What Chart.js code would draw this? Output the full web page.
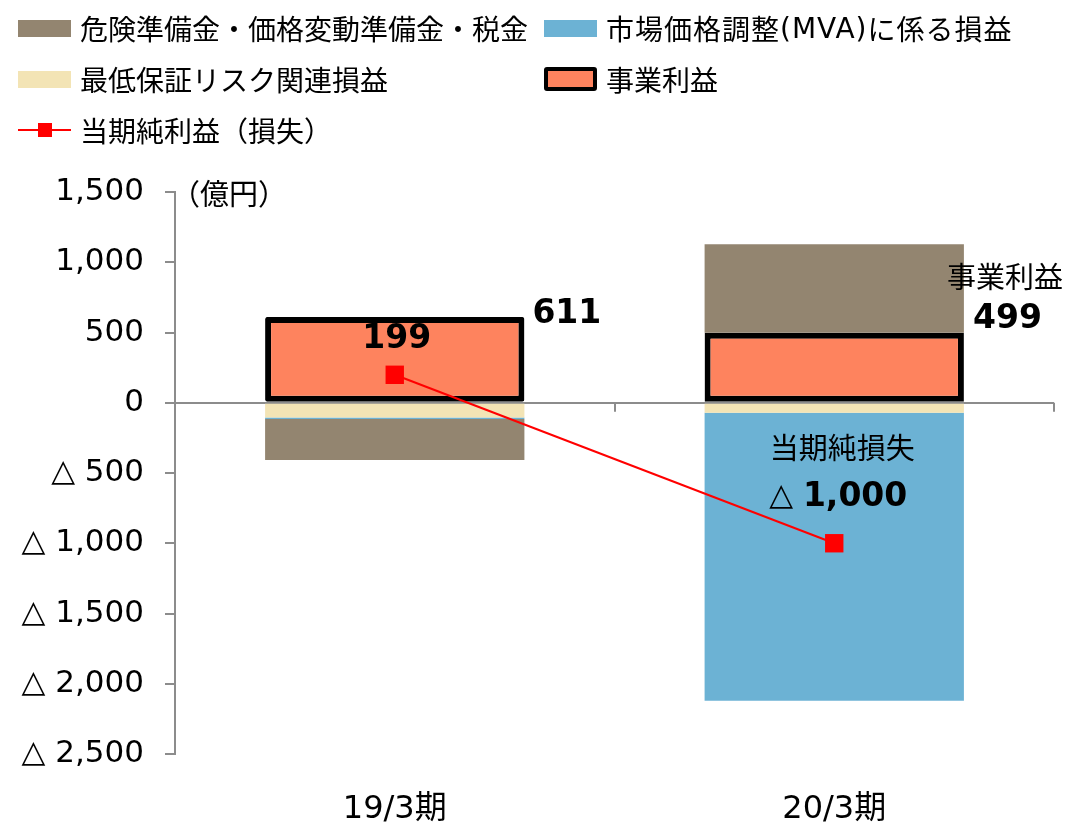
<!DOCTYPE html>
<html lang="ja">
<head>
<meta charset="UTF-8">
<title>事業利益と当期純利益</title>
<script src="https://cdn.jsdelivr.net/npm/chart.js@4.4.1/dist/chart.umd.min.js"></script>
<style>
    html, body { margin: 0; padding: 0; background: #fff; }
    body { width: 1067px; height: 825px; position: relative; overflow: hidden;
           font-family: "Noto Sans CJK JP", "DejaVu Sans", sans-serif; color: #000; }
    #wrap { position: absolute; left: 0; top: 0; width: 1067px; height: 825px; }
    .legend-item { position: absolute; display: flex; align-items: center; font-size: 28px; white-space: nowrap;
                   font-family: "DejaVu Sans", "Noto Sans CJK JP", sans-serif; }
    .legend-item .jp { font-family: "Noto Sans CJK JP", sans-serif; }
    .sw { width: 53px; height: 17px; margin-right: 9px; box-sizing: border-box; }
    .sw-line { width: 53px; height: 20px; margin-right: 9px; position: relative; }
    .sw-line::before { content: ''; position: absolute; left: 0; right: 0; top: 9px; height: 2px; background: #ff0000; }
    .sw-line::after { content: ''; position: absolute; left: 20px; top: 3px; width: 14px; height: 14px; background: #ff0000; }
</style>
</head>
<body>
<div id="wrap"><canvas id="mainChart" width="1067" height="825"></canvas></div>

<!-- 凡例 -->
<div class="legend-item" style="left:18px; top:8px;"><div class="sw" style="background:#938570"></div><span class="jp">危険準備金・価格変動準備金・税金</span></div>
<div class="legend-item" style="left:544px; top:8px;"><div class="sw" style="background:#6cb2d4"></div><span class="jp" style="letter-spacing:1px">市場価格調整</span><span style="letter-spacing:1px">(MVA)</span><span class="jp" style="letter-spacing:1px">に係る損益</span></div>
<div class="legend-item" style="left:18px; top:59px;"><div class="sw" style="background:#f3e4b5"></div><span class="jp">最低保証リスク関連損益</span></div>
<div class="legend-item" style="left:544px; top:59px;"><div class="sw" style="background:#fe835e; border:4px solid #000; border-radius:3px; height:24px"></div><span class="jp">事業利益</span></div>
<div class="legend-item" style="left:18px; top:110px;"><div class="sw-line"></div><span class="jp">当期純利益（損失）</span></div>

<script>
/* ===== データ ===== */
const categories = ['19/3期', '20/3期'];

const businessProfit = [611, 499];        // 事業利益
const minGuarantee   = [-105, -71];       // 最低保証リスク関連損益
const mvaAdjust      = [-10, -2050];      // 市場価格調整(MVA)に係る損益
const reserveTax     = [-292, 630];       // 危険準備金・価格変動準備金・税金
const netIncome      = [199, -1000];      // 当期純利益（損失）

const yTicks = [-2500, -2000, -1500, -1000, -500, 0, 500, 1000, 1500];

const fmt = v => (v < 0 ? '△ ' : '') + Math.abs(v).toLocaleString('en-US');

/* ===== 注記プラグイン ===== */
const annotatePlugin = {
    id: 'annotate',
    afterDatasetsDraw(chart) {
        const ctx = chart.ctx;
        const area = chart.chartArea;
        const yScale = chart.scales.y;
        const xScale = chart.scales.x;
        const bp = chart.getDatasetMeta(0).data;
        const ni = chart.getDatasetMeta(4).data;
        const zeroY = yScale.getPixelForValue(0);

        ctx.save();
        // X軸の目盛り（0ライン上）
        ctx.strokeStyle = '#8c8c8c';
        ctx.lineWidth = 2;
        [0.5, 1.5].forEach(i => {
            const x = Math.round((xScale.getPixelForValue(i - 0.5) + xScale.getPixelForValue(i + 0.5)) / 2);
            ctx.beginPath();
            ctx.moveTo(x, zeroY);
            ctx.lineTo(x, zeroY + 9);
            ctx.stroke();
        });

        ctx.fillStyle = '#000';
        ctx.textBaseline = 'middle';

        // 単位
        ctx.font = '29px "Noto Sans CJK JP"';
        ctx.textAlign = 'left';
        ctx.fillText('（億円）', area.left - 4, area.top + 2);

        // 19/3期 事業利益
        ctx.font = 'bold 33px "DejaVu Sans"';
        ctx.fillText(String(businessProfit[0]), bp[0].x + bp[0].width / 2 + 8, bp[0].y - 2);

        // 19/3期 当期純利益
        ctx.textAlign = 'center';
        ctx.fillText(String(netIncome[0]), ni[0].x + 2, ni[0].y - 35);

        // 20/3期 事業利益
        const r1 = bp[1].x + bp[1].width / 2;
        ctx.textAlign = 'right';
        ctx.font = '29px "Noto Sans CJK JP"';
        ctx.fillText('事業利益', r1 + 99, bp[1].y - 56);
        ctx.font = 'bold 33px "DejaVu Sans"';
        ctx.fillText(String(businessProfit[1]), r1 + 78, bp[1].y - 13);

        // 20/3期 当期純損失
        ctx.textAlign = 'center';
        ctx.font = '29px "Noto Sans CJK JP"';
        ctx.fillText('当期純損失', ni[1].x + 8, ni[1].y - 95);
        ctx.textAlign = 'left';
        ctx.font = '31px "DejaVu Sans"';
        const tri = '△ ';
        const triW = ctx.measureText(tri).width;
        ctx.font = 'bold 33px "DejaVu Sans"';
        const num = Math.abs(netIncome[1]).toLocaleString('en-US');
        const numW = ctx.measureText(num).width;
        const startX = ni[1].x + 4 - (triW + numW) / 2;
        ctx.font = '31px "DejaVu Sans"';
        ctx.fillText(tri, startX, ni[1].y - 46);
        ctx.font = 'bold 33px "DejaVu Sans"';
        ctx.fillText(num, startX + triW, ni[1].y - 46);
        ctx.restore();
    }
};

/* ===== チャート描画 ===== */
function renderChart() {
    const ctx = document.getElementById('mainChart').getContext('2d');
    const barOpts = { categoryPercentage: 1.0, barPercentage: 0.59, borderWidth: 0 };

    const chart = new Chart(ctx, {
        type: 'bar',
        data: {
            labels: categories,
            datasets: [
                { label: '事業利益', data: businessProfit, backgroundColor: '#fe835e',
                  borderColor: '#000', borderWidth: 6, borderSkipped: false, borderRadius: 2,
                  categoryPercentage: 1.0, barPercentage: 0.59, order: 2 },
                { label: '最低保証リスク関連損益', data: minGuarantee, backgroundColor: '#f3e4b5', ...barOpts, order: 3 },
                { label: '市場価格調整(MVA)に係る損益', data: mvaAdjust, backgroundColor: '#6cb2d4', ...barOpts, order: 4 },
                { label: '危険準備金・価格変動準備金・税金', data: reserveTax, backgroundColor: '#938570', ...barOpts, order: 5 },
                { type: 'line', label: '当期純利益（損失）', data: netIncome,
                  borderColor: '#ff0000', backgroundColor: '#ff0000', borderWidth: 2,
                  pointStyle: 'rect', pointRadius: 13, pointBorderWidth: 0, pointHoverRadius: 13,
                  tension: 0, order: 0 }
            ]
        },
        options: {
            responsive: false,
            animation: false,
            layout: { padding: { top: 192, right: 9, left: 0, bottom: 0 } },
            plugins: {
                legend: { display: false },
                tooltip: { enabled: false }
            },
            scales: {
                x: {
                    stacked: true,
                    border: { display: false },
                    grid: { display: false, drawTicks: false },
                    ticks: { color: '#000', padding: 36, font: { family: '"DejaVu Sans", "Noto Sans CJK JP"', size: 32 } },
                    afterFit: s => { s.height = 71; }
                },
                y: {
                    stacked: true,
                    min: -2500,
                    max: 1500,
                    afterBuildTicks: s => { s.ticks = yTicks.map(v => ({ value: v })); },
                    border: { display: true, color: '#8c8c8c', width: 2 },
                    grid: {
                        color: c => (c.tick && c.tick.value === 0 ? '#8c8c8c' : 'rgba(0,0,0,0)'),
                        lineWidth: 2,
                        tickColor: '#8c8c8c',
                        tickLength: 10,
                        drawOnChartArea: true
                    },
                    ticks: {
                        color: '#000',
                        padding: 21,
                        font: { family: '"DejaVu Sans", "Noto Sans CJK JP"', size: 31 },
                        callback: v => fmt(v)
                    },
                    afterFit: s => { s.width = 175; }
                }
            }
        },
        plugins: [annotatePlugin]
    });
    return chart;
}

document.addEventListener('DOMContentLoaded', () => {
    renderChart();
});
</script>
</body>
</html>
